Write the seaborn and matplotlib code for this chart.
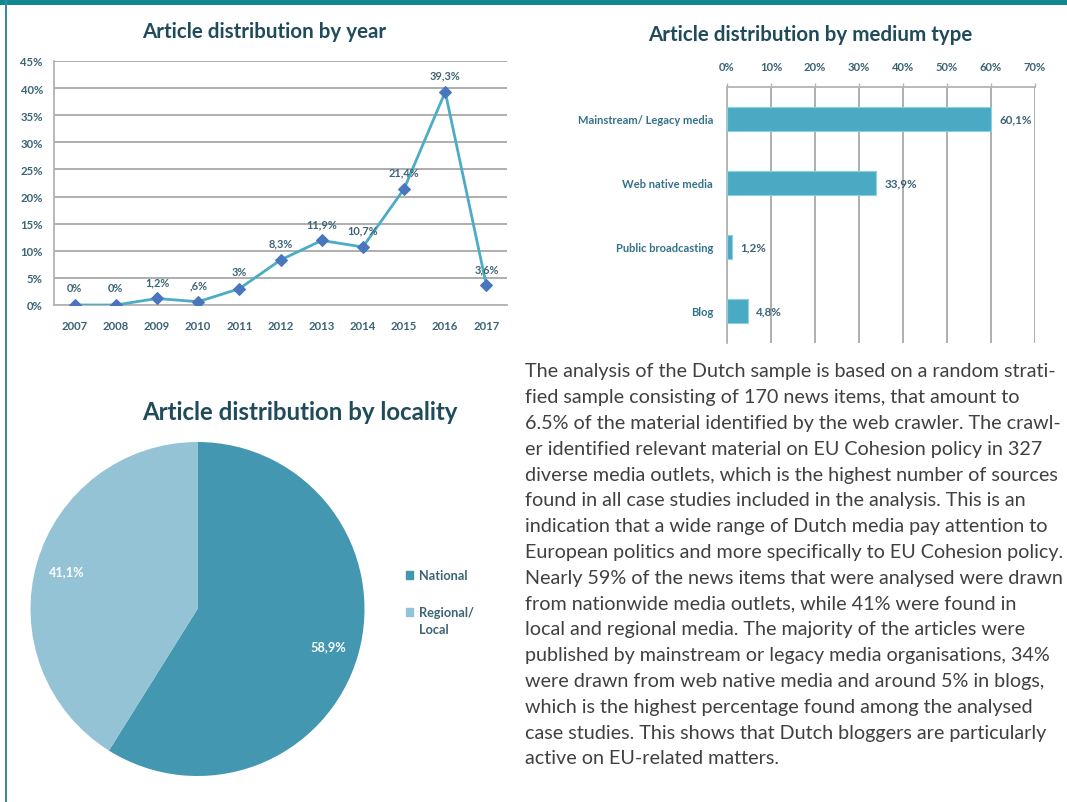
import numpy as np
import pandas as pd
import matplotlib
matplotlib.use("Agg")
import matplotlib.pyplot as plt
from matplotlib.patches import Patch, Rectangle
from matplotlib.legend_handler import HandlerPatch
import seaborn as sns

# ---- data -------------------------------------------------------------
years = ["2007", "2008", "2009", "2010", "2011", "2012",
         "2013", "2014", "2015", "2016", "2017"]
year_share = [0, 0, 1.2, 0.6, 3, 8.3, 11.9, 10.7, 21.4, 39.3, 3.6]
year_ticks = [0, 5, 10, 15, 20, 25, 30, 35, 40, 45]

media_types = ["Mainstream/ Legacy media", "Web native media",
               "Public broadcasting", "Blog"]
media_share = [60.1, 33.9, 1.2, 4.8]
medium_ticks = [0, 10, 20, 30, 40, 50, 60, 70]

localities = ["National", "Regional/\nLocal"]
locality_share = [58.9, 41.1]

paragraph_lines = [
    "The analysis of the Dutch sample is based on a random strati-",
    "fied sample consisting of 170 news items, that amount to",
    "6.5% of the material identified by the web crawler. The crawl-",
    "er identified relevant material on EU Cohesion policy in 327",
    "diverse media outlets, which is the highest number of sources",
    "found in all case studies included in the analysis. This is an",
    "indication that a wide range of Dutch media pay attention to",
    "European politics and more specifically to EU Cohesion policy.",
    "Nearly 59% of the news items that were analysed were drawn",
    "from nationwide media outlets, while 41% were found in",
    "local and regional media. The majority of the articles were",
    "published by mainstream or legacy media organisations, 34%",
    "were drawn from web native media and around 5% in blogs,",
    "which is the highest percentage found among the analysed",
    "case studies. This shows that Dutch bloggers are particularly",
    "active on EU-related matters.",
]

# ---- styling ----------------------------------------------------------
TITLE_C = "#1f4b5b"
LABEL_C = "#3c6475"
CAT_C = "#33708a"
GRID_C = "#a8a8a8"
AXIS_C = "#b4b4b4"
LINE_C = "#4bacc6"
MARK_C = "#4a76bd"
BAR_C = "#4aaac4"
DARK_C = "#4397b0"
LIGHT_C = "#93c3d5"
TEXT_C = "#404040"
FONT = "Lato"

sns.set_theme(style="white")
plt.rcParams["font.family"] = [FONT, "DejaVu Sans"]

W, H = 1067, 803
fig = plt.figure(figsize=(W / 100, H / 100), dpi=100)


def box(left, top, right, bottom):
    return [left / W, 1 - bottom / H, (right - left) / W, (bottom - top) / H]


def fmt_pct(v):
    s = f"{v:g}".replace(".", ",")
    if s.startswith("0,"):
        s = s[1:]
    return s + "%"


# ---- page frame ---------------------------------------------------------
fig.add_artist(Rectangle((0, 1 - 6 / H), 1, 6 / H, transform=fig.transFigure,
                         color="#11878f", lw=0))
fig.add_artist(Rectangle((5 / W, 0), 2.2 / W, 1, transform=fig.transFigure,
                         color="#3b89a9", lw=0))

# ---- article distribution by year -------------------------------------
line_tick = dict(fontsize=8.2, fontweight="bold", color=LABEL_C)
ax1 = fig.add_axes(box(54, 62, 507, 306))
df_year = pd.DataFrame({"year": years, "share": year_share})
sns.lineplot(data=df_year, x="year", y="share", ax=ax1, sort=False,
             color=LINE_C, lw=2.0, marker="D", markersize=6.3,
             markerfacecolor=MARK_C, markeredgecolor=MARK_C, zorder=3)
ax1.set_xlim(-0.5, len(years) - 0.5)
ax1.set_ylim(0, 45)
ax1.set_yticks(year_ticks)
ax1.set_yticklabels([f"{t}%" for t in year_ticks], **line_tick)
ax1.set_xticks(range(len(years)))
ax1.set_xticklabels(years, **line_tick)
ax1.set_xticks(np.arange(-0.5, len(years)), minor=True)
ax1.tick_params(axis="x", which="major", length=0, pad=11)
ax1.tick_params(axis="x", which="minor", length=4, color=AXIS_C, direction="out", width=1)
ax1.tick_params(axis="y", which="major", length=4, color=AXIS_C, direction="out", pad=4, width=1)
ax1.yaxis.grid(True, color=GRID_C, lw=1.3)
ax1.xaxis.grid(False)
for side in ("top", "right"):
    ax1.spines[side].set_visible(False)
for side in ("left", "bottom"):
    ax1.spines[side].set_color(AXIS_C)
    ax1.spines[side].set_linewidth(1.3)
ax1.set_xlabel("")
ax1.set_ylabel("")
for i, v in enumerate(year_share):
    ax1.annotate(fmt_pct(v), (i, v), xytext=(0, 17), textcoords="offset pixels",
                 ha="center", va="center", fontsize=7.9, fontweight="bold",
                 color=LABEL_C)
fig.text(264 / W, 1 - 32 / H, "Article distribution by year", ha="center",
         va="center", fontsize=14.8, fontweight="bold", color=TITLE_C)

# ---- article distribution by medium type ------------------------------
ax2 = fig.add_axes(box(727, 88, 1035, 344))
df_med = pd.DataFrame({"medium": media_types, "share": media_share})
sns.barplot(data=df_med, x="share", y="medium", ax=ax2, orient="h",
            color=BAR_C, saturation=1, width=0.38,
            edgecolor="#8ccfe0", linewidth=0.8, zorder=3)
ax2.set_xlim(0, 70)
ax2.set_ylim(len(media_types) - 0.5, -0.5)
ax2.xaxis.tick_top()
ax2.set_xticks(medium_ticks)
ax2.set_xticklabels([f"{t}%" for t in medium_ticks], fontsize=8.1,
                    fontweight="bold", color=LABEL_C)
ax2.set_yticks(range(len(media_types)))
ax2.set_yticklabels(media_types, fontsize=8.0, fontweight="bold", color=CAT_C)
ax2.set_yticks(np.arange(0.5, len(media_types) - 0.5), minor=True)
ax2.tick_params(axis="x", which="major", length=3, color=AXIS_C, pad=8, width=1)
ax2.tick_params(axis="y", which="major", length=0, pad=10)
ax2.tick_params(axis="y", which="minor", length=4, color=AXIS_C, direction="out", width=1)
ax2.xaxis.grid(True, color=GRID_C, lw=1.3, zorder=0)
ax2.yaxis.grid(False)
ax2.set_axisbelow(True)
for side in ("right", "bottom"):
    ax2.spines[side].set_visible(False)
for side in ("top", "left"):
    ax2.spines[side].set_color(AXIS_C)
    ax2.spines[side].set_linewidth(1.3)
ax2.set_xlabel("")
ax2.set_ylabel("")
ax2.bar_label(ax2.containers[0], labels=[fmt_pct(v) for v in media_share],
              padding=6, fontsize=8.4, fontweight="bold", color=LABEL_C)
fig.text(810 / W, 1 - 35 / H, "Article distribution by medium type",
         ha="center", va="center", fontsize=14.8, fontweight="bold",
         color=TITLE_C)

# ---- article distribution by locality ---------------------------------
ax3 = fig.add_axes(box(30.5, 443, 364.5, 777))
wedges, _, autotexts = ax3.pie(
    locality_share, colors=[DARK_C, LIGHT_C], startangle=90,
    counterclock=False, autopct=lambda p: fmt_pct(round(p, 1)),
    pctdistance=0.815, wedgeprops=dict(linewidth=0),
    textprops=dict(color="white", fontsize=9.2, fontweight="bold"))
ax3.set_xlim(-1, 1)
ax3.set_ylim(-1, 1)
ax3.set_aspect("equal")
ax3.axis("off")


def first_line_square(legend, orig_handle, xdescent, ydescent, width, height,
                      fontsize):
    # keep the key square level with the first line of a two-line label
    return Rectangle((-xdescent, -ydescent + 0.72 * fontsize), width, height)


national_key = Patch(color=DARK_C)
regional_key = Patch(color=LIGHT_C)
leg = fig.legend(handles=[national_key, regional_key],
                 labels=localities, loc="upper left",
                 bbox_to_anchor=(394 / W, 1 - 559 / H), frameon=False,
                 handlelength=0.6, handleheight=0.6, handletextpad=0.45,
                 labelspacing=1.95, prop=dict(family=FONT, size=9.2, weight="bold"),
                 labelcolor=LABEL_C,
                 handler_map={regional_key: HandlerPatch(patch_func=first_line_square)})
leg.get_texts()[1].set_linespacing(1.45)
fig.text(300 / W, 1 - 413 / H, "Article distribution by locality",
         ha="center", va="center", fontsize=17.3, fontweight="bold",
         color=TITLE_C)

# ---- paragraph ----------------------------------------------------------
for i, line in enumerate(paragraph_lines):
    fig.text(525 / W, 1 - (372 + i * 25.8) / H, line, ha="left",
             va="center", fontsize=14.2, color=TEXT_C, family=FONT)

fig.savefig("out.png", dpi=100, facecolor="white")
